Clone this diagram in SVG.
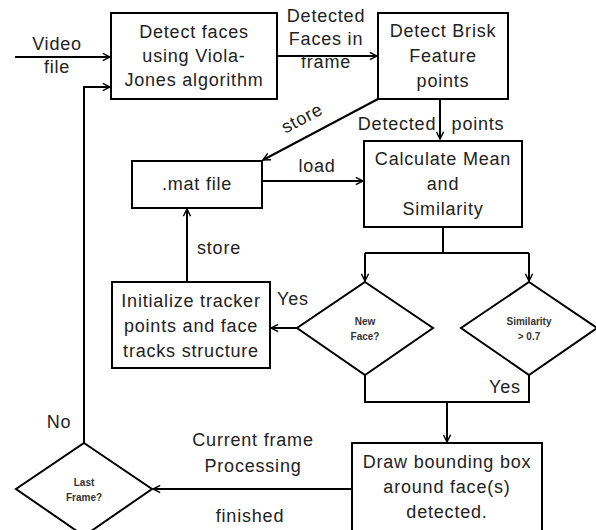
<svg xmlns="http://www.w3.org/2000/svg" width="596" height="530" viewBox="0 0 596 530">
<defs>
<marker id="ah" viewBox="0 0 10 10" refX="9" refY="5" markerWidth="9" markerHeight="9" markerUnits="userSpaceOnUse" orient="auto">
<path d="M1,1 L9,5 L1,9" fill="none" stroke="#000" stroke-width="1.6"/>
</marker>
<style>
.box{fill:#fff;stroke:#000;stroke-width:2}
.t{font-family:"Liberation Sans",Arial,sans-serif;font-size:18px;letter-spacing:0.8px;fill:#222;text-anchor:middle}
.s{font-family:"Liberation Sans",Arial,sans-serif;font-size:10px;font-weight:bold;fill:#333;text-anchor:middle}
.c{fill:none;stroke:#000;stroke-width:2}
</style>
</defs>
<rect width="596" height="530" fill="#fff"/>
<g id="connectors">
<path class="c" d="M15,57 H110" marker-end="url(#ah)"/>
<path class="c" d="M277,56 H377" marker-end="url(#ah)"/>
<path class="c" d="M440,99 V139" marker-end="url(#ah)"/>
<path class="c" d="M378,99 L263,160" marker-end="url(#ah)"/>
<path class="c" d="M262,181 H363" marker-end="url(#ah)"/>
<path class="c" d="M443,227 V253 M365,253 H529"/>
<path class="c" d="M365,253 V281" marker-end="url(#ah)"/>
<path class="c" d="M529,253 V281" marker-end="url(#ah)"/>
<path class="c" d="M297,328 H271" marker-end="url(#ah)"/>
<path class="c" d="M187,282 V209" marker-end="url(#ah)"/>
<path class="c" d="M365,375 V402 H529 V375"/>
<path class="c" d="M447,402 V442" marker-end="url(#ah)"/>
<path class="c" d="M352,489 H153" marker-end="url(#ah)"/>
<path class="c" d="M84,443 V87 H110" marker-end="url(#ah)"/>
</g>
<g id="labels">
<text class="t" x="57" y="50">Video</text>
<text class="t" x="57" y="73">file</text>
<text class="t" x="326" y="22">Detected</text>
<text class="t" x="326" y="45">Faces in</text>
<text class="t" x="326" y="68">frame</text>
<text class="t" x="303" y="124" transform="rotate(-28 303 120)">store</text>
<text class="t" x="397" y="130">Detected</text>
<text class="t" x="478" y="130">points</text>
<text class="t" x="317" y="172">load</text>
<text class="t" x="219" y="254">store</text>
<text class="t" x="293" y="305">Yes</text>
<text class="t" x="505" y="393">Yes</text>
<text class="t" x="59" y="428">No</text>
<text class="t" x="253" y="446">Current frame</text>
<text class="t" x="253" y="472">Processing</text>
<text class="t" x="250" y="522">finished</text>
</g>
<g id="n1"><rect class="box" x="111" y="13" width="166" height="86"/>
<text class="t" x="194" y="38">Detect faces</text><text class="t" x="194" y="62">using Viola-</text><text class="t" x="194" y="86">Jones algorithm</text></g>
<g id="n2"><rect class="box" x="378" y="13" width="130" height="86"/>
<text class="t" x="443" y="37">Detect Brisk</text><text class="t" x="443" y="62">Feature</text><text class="t" x="443" y="87">points</text></g>
<g id="n3"><rect class="box" x="364" y="141" width="158" height="86"/>
<text class="t" x="443" y="165">Calculate Mean</text><text class="t" x="443" y="190">and</text><text class="t" x="443" y="215">Similarity</text></g>
<g id="n4"><rect class="box" x="132" y="161" width="130" height="47"/>
<text class="t" x="197" y="190">.mat file</text></g>
<g id="n5"><rect class="box" x="112" y="282" width="158" height="86"/>
<text class="t" x="191" y="307">Initialize tracker</text><text class="t" x="191" y="332">points and face</text><text class="t" x="191" y="357">tracks structure</text></g>
<g id="n6"><path class="box" d="M365,282 L433,328 L365,375 L297,328 Z"/>
<text class="s" x="365" y="325">New</text><text class="s" x="365" y="340">Face?</text></g>
<g id="n7"><path class="box" d="M529,282 L597,328 L529,375 L461,328 Z"/>
<text class="s" x="529" y="325">Similarity</text><text class="s" x="529" y="340">&gt; 0.7</text></g>
<g id="n8"><rect class="box" x="352" y="443" width="190" height="90"/>
<text class="t" x="447" y="468">Draw bounding box</text><text class="t" x="447" y="493">around face(s)</text><text class="t" x="447" y="518">detected.</text></g>
<g id="n9"><path class="box" d="M84,443 L152,489 L84,536 L16,489 Z"/>
<text class="s" x="84" y="486">Last</text><text class="s" x="84" y="501">Frame?</text></g>
</svg>
